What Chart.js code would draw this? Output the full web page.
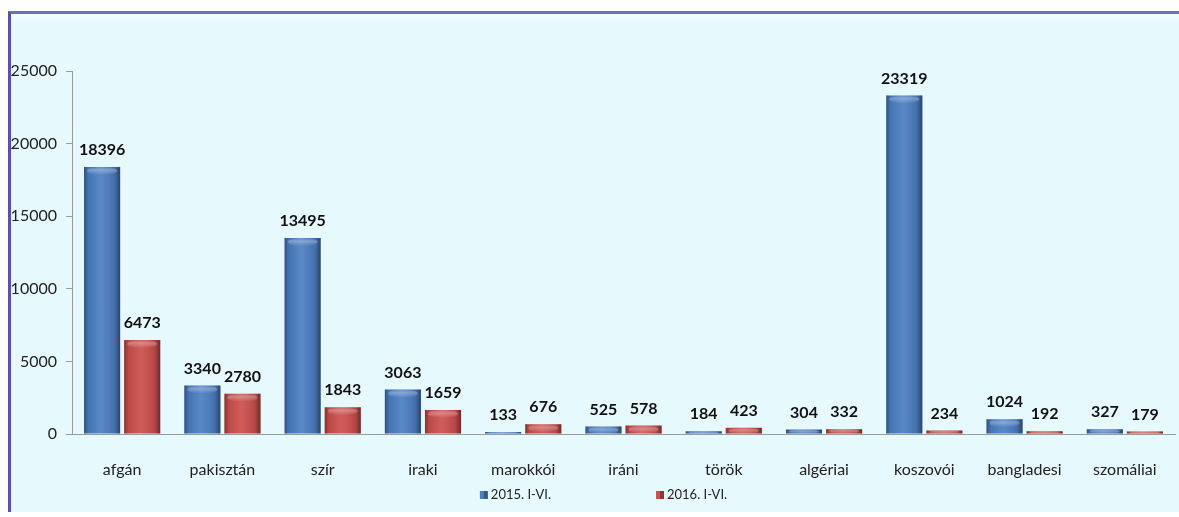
<!DOCTYPE html>
<html>
<head>
<meta charset="utf-8">
<script src="https://cdn.jsdelivr.net/npm/chart.js@4"></script>
<style>
  html, body { margin: 0; padding: 0; background: #ffffff; }
  #frame {
    position: absolute; left: 8px; top: 11px; width: 1171px; height: 501px;
    background: linear-gradient(#f3fdff 0px, #e6f9fd 10px, #e6f9fd 100%);
    border-top: 3px solid #6b70b8; border-left: 3px solid #5a4eb0;
    box-sizing: border-box;
  }
  #wrap { position: absolute; left: 0; top: 0; width: 1179px; height: 517px; }
</style>
</head>
<body>
<div id="frame"></div>
<div id="wrap"><canvas id="chart1" width="1179" height="517"></canvas></div>
<script>
  const categories = ['afgán', 'pakisztán', 'szír', 'iraki', 'marokkói', 'iráni', 'török', 'algériai', 'koszovói', 'bangladesi', 'szomáliai'];
  const series2015 = [18396, 3340, 13495, 3063, 133, 525, 184, 304, 23319, 1024, 327];
  const series2016 = [6473, 2780, 1843, 1659, 676, 578, 423, 332, 234, 192, 179];
  const seriesLabels = ['2015. I-VI.', '2016. I-VI.'];
  const yTicks = [0, 5000, 10000, 15000, 20000, 25000];

  const kek = '#4b7ec3';
  const piros = '#cc4f4c';
  const betu = 'Lato, "Open Sans", sans-serif';

  // 3D-szerű árnyékolás a hasábokra
  const arnyek = {
    id: 'arnyek',
    afterDatasetsDraw(chart) {
      const c = chart.ctx;
      chart.data.datasets.forEach((ds, i) => {
        chart.getDatasetMeta(i).data.forEach(el => {
          const x0 = el.x - el.width / 2, x1 = el.x + el.width / 2;
          const top = el.y, bottom = el.base;
          const h = bottom - top;
          if (h <= 0) return;
          c.save();
          const g = c.createLinearGradient(x0, 0, x1, 0);
          g.addColorStop(0, 'rgba(0,0,0,0.35)');
          g.addColorStop(0.12, 'rgba(0,0,0,0.08)');
          g.addColorStop(0.45, 'rgba(255,255,255,0.08)');
          g.addColorStop(0.85, 'rgba(0,0,0,0.12)');
          g.addColorStop(1, 'rgba(0,0,0,0.45)');
          c.fillStyle = g;
          c.fillRect(x0, top, x1 - x0, h);
          const capH = Math.min(8, h);
          const g2 = c.createLinearGradient(0, top, 0, top + capH);
          g2.addColorStop(0, 'rgba(255,255,255,0.05)');
          g2.addColorStop(0.4, 'rgba(255,255,255,0.28)');
          g2.addColorStop(1, 'rgba(255,255,255,0.0)');
          c.fillStyle = g2;
          c.beginPath();
          c.ellipse(el.x, top + capH / 2, (x1 - x0) / 2 - 3, capH / 2, 0, 0, Math.PI * 2);
          c.fill();
          c.restore();
        });
      });
    }
  };

  // értékcímkék a hasábok fölött
  const ertekek = {
    id: 'ertekek',
    afterDatasetsDraw(chart) {
      const c = chart.ctx;
      c.save();
      c.font = 'bold 16px ' + betu;
      c.fillStyle = '#111';
      c.textAlign = 'center';
      c.textBaseline = 'bottom';
      chart.data.datasets.forEach((ds, i) => {
        chart.getDatasetMeta(i).data.forEach((el, j) => {
          c.fillText(String(ds.data[j]), el.x, el.y - 9);
        });
      });
      c.restore();
    }
  };

  // jelmagyarázat alul
  const jelmagyarazat = {
    id: 'jelmagyarazat',
    afterDraw(chart) {
      const c = chart.ctx;
      c.save();
      c.font = '13px ' + betu;
      c.textBaseline = 'middle';
      const box = 8, gap = 3, space = 105;
      const widths = chart.data.datasets.map(ds => box + gap + c.measureText(ds.label).width);
      const total = widths.reduce((a, b) => a + b, 0) + space * (widths.length - 1);
      let x = chart.chartArea.left + (chart.chartArea.width - total) / 2 - 20;
      const y = chart.height - 22;
      chart.data.datasets.forEach((ds, i) => {
        c.fillStyle = ds.backgroundColor;
        c.fillRect(x, y - box / 2, box, box);
        c.fillStyle = 'rgba(0,0,0,0.3)';
        c.fillRect(x + box / 2, y - box / 2, box / 2, box);
        c.fillStyle = '#222';
        c.fillText(ds.label, x + box + gap, y);
        x += widths[i] + space;
      });
      c.restore();
    }
  };

  const ctx = document.getElementById('chart1').getContext('2d');

  new Chart(ctx, {
    type: 'bar',
    data: {
      labels: categories,
      datasets: [{
        label: seriesLabels[0],
        backgroundColor: kek,
        data: series2015,
        borderWidth: 0
      }, {
        label: seriesLabels[1],
        backgroundColor: piros,
        data: series2016,
        borderWidth: 0
      }]
    },
    options: {
      responsive: false,
      animation: false,
      layout: {
        padding: { left: 0, right: 4, top: 71, bottom: 23 }
      },
      plugins: {
        legend: { display: false },
        tooltip: { enabled: false }
      },
      scales: {
        x: {
          categoryPercentage: 0.72,
          barPercentage: 0.92,
          grid: { display: false },
          border: { display: true, color: '#9a9a9a', width: 1 },
          ticks: { color: '#222', font: { family: betu, size: 16 }, padding: 18 },
          afterFit(s) { s.height = 60; }
        },
        y: {
          min: 0,
          max: 25000,
          afterBuildTicks(s) { s.ticks = yTicks.map(v => ({ value: v })); },
          grid: { drawOnChartArea: false, drawTicks: true, tickLength: 6, color: '#9a9a9a' },
          border: { display: true, color: '#9a9a9a', width: 1 },
          ticks: {
            color: '#222',
            font: { family: betu, size: 16 },
            padding: 9,
            callback: v => String(v)
          },
          afterFit(s) { s.width = 72; }
        }
      }
    },
    plugins: [arnyek, ertekek, jelmagyarazat]
  });
</script>
</body>
</html>
